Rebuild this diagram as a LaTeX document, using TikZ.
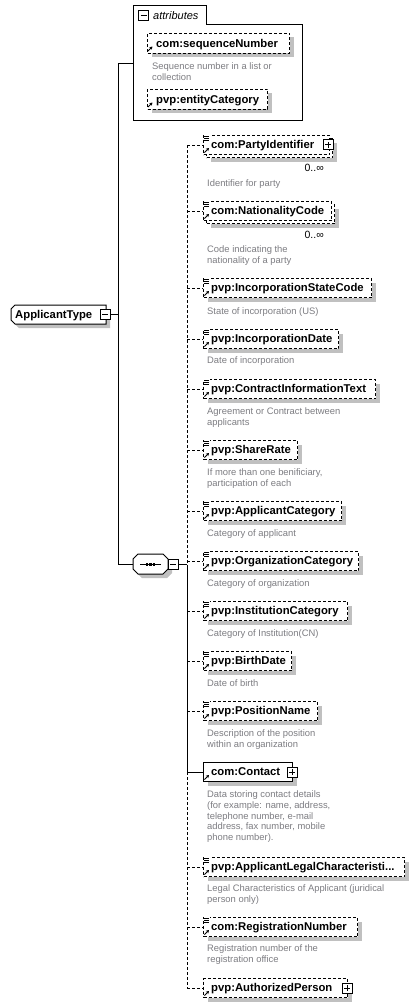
\documentclass[tikz,border=0pt]{standalone}
\usepackage{fontspec}
\setmainfont{Liberation Sans}
\usetikzlibrary{shadows,arrows.meta}
\definecolor{shgray}{RGB}{192,192,192}
\definecolor{desc}{RGB}{125,125,130}
\tikzset{
  conn/.style={line width=1pt, solid},
  opt/.style={line width=1pt, dash pattern=on 3pt off 2pt},
  elbox/.style={draw, fill=white, line width=1pt, dash pattern=on 3pt off 2pt, inner sep=0pt, minimum height=19pt, anchor=west},
  shad/.style={drop shadow={shadow xshift=4pt, shadow yshift=-4pt, fill=shgray, opacity=1}},
  nm/.style={font=\fontsize{11.3}{13}\selectfont\bfseries, inner sep=0pt, anchor=base west},
  ds/.style={font=\fontsize{9.4}{10.9}\selectfont, text=desc, inner sep=0pt, anchor=north west, align=left},
  occ/.style={font=\fontsize{10.5}{12}\selectfont, inner sep=0pt, anchor=base east},
  pm/.style={draw, solid, fill=white, line width=1pt, minimum size=10pt, inner sep=0pt},
  plusic/.style={pm, path picture={\draw[line width=1pt] ([xshift=-3pt]path picture bounding box.center) -- ([xshift=3pt]path picture bounding box.center) ([yshift=-3pt]path picture bounding box.center) -- ([yshift=3pt]path picture bounding box.center);}},
  minusic/.style={pm, path picture={\draw[line width=1pt] ([xshift=-3pt]path picture bounding box.center) -- ([xshift=3pt]path picture bounding box.center);}},
}
\newcommand\xlines[2]{%
  \fill[white] (#1-0.5,#2-1) rectangle (#1+5.5,#2+5);
  \draw[line width=0.8pt] (#1,#2+0.5) -- ++(5,0) (#1,#2+2.5) -- ++(5,0) (#1,#2+4.5) -- ++(5,0);}
\newcommand\xarrow[2]{%
  \draw[line width=1pt,-{Stealth[length=3pt,width=3.5pt]}] (#1,#2-2) -- (#1+4.5,#2-6.5);}
% id, cy, right, name, style
\newcommand\xel[5]{%
  \node[elbox, shad, minimum width=#3-203, #5] (#1) at (203,#2) {};
  \coordinate (#1s) at (187,#2);
  \draw[#5] (#1s) -- (#1);
  \xarrow{204.5}{#2+9.5}
  \node[nm] (#1t) at (211,#2+3.5) {#4};}
\newcommand\xmul[4]{%
  \node[elbox, shad, minimum width=#3-203] (#1b) at (206,#2+3) {};
  \node[elbox, minimum width=#3-203] (#1) at (203,#2) {};
  \coordinate (#1s) at (187,#2);
  \draw[opt] (#1s) -- (#1);
  \xarrow{204.5}{#2+9.5}
  \node[nm] (#1t) at (211,#2+3.5) {#4};}
\newcommand\xdesc[3]{\node[ds] (#1d) at (207,#2-4.5) {\rule{0pt}{7.5pt}#3};}
\begin{document}
\begin{tikzpicture}[x=1pt,y=-1pt]
\useasboundingbox (0,0) rectangle (418,1007);
\fill[white] (0,0) rectangle (418,1007);

% attributes group
\draw[line width=1pt, fill=white] (133,120) -- (133,5) -- (206,5) -- (206,24) -- (302,24) -- (302,120) -- cycle;
\node[minusic, line width=1.4pt, minimum size=10.5pt] (attrMinus) at (143.5,15.5) {};
\node[font=\fontsize{11}{13}\selectfont\itshape, anchor=base west, inner sep=0pt] (attrLbl) at (153,19.5) {attributes};
\coordinate (attrIn) at (133,63);
\node[elbox, shad, minimum height=20pt, minimum width=142pt] (a1) at (147,43) {};
\xarrow{148}{53}
\node[nm] (a1t) at (156,47) {com:sequenceNumber};
\node[ds] (a1d) at (152,61.5) {\rule{0pt}{7.5pt}Sequence number in a list or\\collection};
\node[elbox, shad, minimum height=20pt, minimum width=120pt] (a2) at (147,99) {};
\xarrow{148}{109}
\node[nm] (a2t) at (156,103) {pvp:entityCategory};

% ApplicantType
\fill[shgray] (19,309) -- (110,309) -- (110,328) -- (19,328) -- (15,324) -- (15,313) -- cycle;
\draw[line width=1pt, fill=white] (15,305) -- (106,305) -- (106,324) -- (15,324) -- (11,320) -- (11,309) -- cycle;
\node[nm] (atT) at (15,318.5) {ApplicantType};
\node[minusic] (atMinus) at (105,314.5) {};

% sequence compositor
\fill[shgray] (142,558) -- (167,558) -- (172,563) -- (172,573) -- (167,578) -- (142,578) -- (137,573) -- (137,563) -- cycle;
\draw[line width=1pt, fill=white] (138,554) -- (163,554) -- (168,559) -- (168,569) -- (163,574) -- (138,574) -- (133,569) -- (133,559) -- cycle;
\draw[line width=1pt] (140,564.5) -- (161,564.5);
\foreach \dx in {147,150.5,154} \fill (\dx-1.3,563.2) rectangle (\dx+1.3,565.8);
\coordinate (seqL) at (133,564.5);
\node[minusic] (seqMinus) at (173,564.5) {};
\coordinate (spSeq) at (187,564.5);

% left trunk
\coordinate (jTop) at (118,63);
\coordinate (jSeq) at (118,564.5);
\draw[conn] (attrIn) -- (jTop) -- (jSeq) -- (seqL);
\draw[conn] (atMinus) -- (atMinus -| jTop);
\draw[conn] (seqMinus) -- (spSeq);

% children
\xmul{e1}{145}{329}{com:PartyIdentifier}
\xlines{204}{135.5}
\node[plusic] (e1p) at (328,144.5) {};
\node[occ] (e1m) at (324,171) {0..∞};
\xdesc{e1}{183}{Identifier for party}

\xmul{e2}{211}{331}{com:NationalityCode}
\xlines{204}{201.5}
\node[occ] (e2m) at (324,238) {0..∞};
\xdesc{e2}{249}{Code indicating the\\nationality of a party}

\xel{e3}{288}{371}{pvp:IncorporationStateCode}{opt}
\xlines{204}{278.5}
\xdesc{e3}{311}{State of incorporation (US)}

\xel{e4}{339}{338}{pvp:IncorporationDate}{opt}
\xlines{204}{329.5}
\xdesc{e4}{360}{Date of incorporation}

\xel{e5}{389}{375}{pvp:ContractInformationText}{opt}
\xlines{204}{379.5}
\xdesc{e5}{411}{Agreement or Contract between\\applicants}

\xel{e6}{450}{297}{pvp:ShareRate}{opt}
\xlines{204}{440.5}
\xdesc{e6}{472}{If more than one benificiary,\\participation of each}

\xel{e7}{511}{341}{pvp:ApplicantCategory}{opt}
\xlines{204}{501.5}
\xdesc{e7}{533}{Category of applicant}

\xel{e8}{561}{358}{pvp:OrganizationCategory}{opt}
\xlines{204}{551.5}
\xdesc{e8}{583}{Category of organization}

\xel{e9}{611}{347}{pvp:InstitutionCategory}{opt}
\xlines{204}{601.5}
\xdesc{e9}{633}{Category of Institution(CN)}

\xel{e10}{661}{291}{pvp:BirthDate}{opt}
\xlines{204}{651.5}
\xdesc{e10}{683}{Date of birth}

\xel{e11}{711}{317}{pvp:PositionName}{opt}
\xlines{204}{701.5}
\xdesc{e11}{733}{Description of the position\\within an organization}

\xel{e12}{772}{292}{com:Contact}{conn}
\node[plusic] (e12p) at (292,772) {};
\xdesc{e12}{794}{Data storing contact details\\(for example: name, address,\\telephone number, e-mail\\address, fax number, mobile\\phone number).}

\xel{e13}{867}{404}{pvp:ApplicantLegalCharacteristi...}{opt}
\xlines{204}{857.5}
\xdesc{e13}{888}{Legal Characteristics of Applicant (juridical\\person only)}

\xel{e14}{927}{357}{com:RegistrationNumber}{opt}
\xlines{204}{917.5}
\xdesc{e14}{948}{Registration number of the\\registration office}

\xel{e15}{988}{347}{pvp:AuthorizedPerson}{opt}
\node[plusic] (e15p) at (347,988) {};

% spine
\draw[opt] (e1s) -- (spSeq);
\draw[conn] (spSeq) -- (e12s);
\draw[opt] (e12s) -- (e15s);
\end{tikzpicture}
\end{document}
